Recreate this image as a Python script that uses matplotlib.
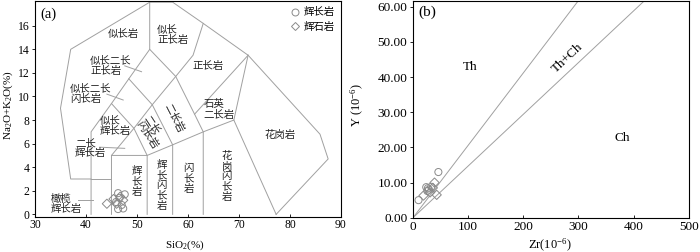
import matplotlib
matplotlib.use('Agg')
import matplotlib.pyplot as plt
from matplotlib.lines import Line2D

plt.rcParams['font.family'] = ['Liberation Serif', 'Noto Sans CJK SC']
plt.rcParams['mathtext.fontset'] = 'custom'
plt.rcParams['mathtext.rm'] = 'Liberation Serif'
plt.rcParams['mathtext.it'] = 'Liberation Serif:italic'

# (a) TAS plutonic diagram (Middlemost 1994) - samples
sio2_gabbro = [46.3, 47.6, 45.9, 47.0, 46.3, 47.3, 46.6]
alk_gabbro = [1.8, 1.7, 1.05, 0.8, 0.45, 0.5, 1.4]
sio2_pyrox = [44.1, 45.4, 47.3, 46.7, 46.0]
alk_pyrox = [0.9, 1.3, 1.2, 1.5, 0.9]

# field boundaries (SiO2, Na2O+K2O)
tas_outline = [(41, 0), (41, 3), (37, 3), (35, 9), (37, 14), (52.5, 18), (57, 18),
               (63, 16.2), (71.8, 13.5), (85.9, 6.8), (87.5, 4.7), (77.3, 0)]
tas_lines = [
    [(41, 3), (41, 7), (45, 9.4), (48.4, 11.5), (52.5, 14), (52.5, 18)],
    [(41, 3), (45, 3)],
    [(45, 0), (45, 5), (49.4, 7.3), (53, 9.3), (57.6, 11.7), (61, 13.5), (63, 16.2)],
    [(45, 5), (52, 5), (57, 5.9), (63, 7), (69, 8), (77.3, 0)],
    [(52, 0), (52, 5), (49.4, 7.3), (45, 9.4)],
    [(57, 0), (57, 5.9), (53, 9.3), (48.4, 11.5)],
    [(63, 0), (63, 7), (61.3, 8.5), (57.6, 11.7), (52.5, 14)],
    [(61.3, 8.5), (71.8, 13.5)],
    [(69, 8), (71.8, 13.5)],
]
# rock names: text, x, y, rotation
tas_names = [
    ('似长岩', 47.3, 15.3, 0),
    ('似长\n正长岩', 57.0, 15.2, 0),
    ('正长岩', 64.0, 12.6, 0),
    ('似长二长\n正长岩', 44.9, 12.6, 0),
    ('似长二长\n闪长岩', 40.9, 10.2, 0),
    ('似长\n辉长岩', 45.7, 7.5, 0),
    ('二长\n辉长岩', 40.9, 5.6, 0),
    ('橄榄\n辉长岩', 36.1, 0.9, 0),
    ('石英\n二长岩', 66.1, 8.9, 0),
    ('花岗岩', 78.0, 6.7, 0),
    ('辉\n长\n岩', 49.9, 2.8, 0),
    ('辉\n长\n闪\n长\n岩', 54.8, 2.45, 0),
    ('闪\n长\n岩', 60.1, 3.0, 0),
    ('花\n岗\n闪\n长\n岩', 67.6, 3.2, 0),
    ('二长岩', 57.3, 8.2, -63),
    ('二长\n闪长岩', 52.7, 7.0, -57),
]
leaders = [
    [(47.6, 12.6), (50.9, 12.1)],
    [(44.1, 10.2), (47.3, 9.7)],
    [(42.7, 5.7), (47.6, 5.6)],
    [(38.5, 1.2), (41.4, 1.2)],
]

# (b) Zr-Y diagram - samples
zr_gabbro = [10, 46, 24, 27, 29, 26, 33]
y_gabbro = [5.0, 13.0, 8.7, 8.4, 8.0, 7.6, 8.8]
zr_pyrox = [19, 31, 39, 43, 36]
y_pyrox = [6.3, 7.2, 10.0, 6.5, 8.5]
# boundary lines through origin, Zr reached at the top of the plot
zr_top = [300, 420]
y_top = 61.8

line_c = '#a0a0a0'
mark_c = '#8a8a8a'

fig = plt.figure(figsize=(7, 2.52), dpi=100)
ax1 = fig.add_axes([0.050, 0.140, 0.437, 0.856])
ax2 = fig.add_axes([0.590, 0.136, 0.394, 0.862])

# ---- (a)
xs = [p[0] for p in tas_outline]
ys = [p[1] for p in tas_outline]
ax1.plot(xs, ys, color=line_c, lw=0.7)
for seg in tas_lines + leaders:
    ax1.plot([p[0] for p in seg], [p[1] for p in seg], color=line_c, lw=0.7)
for txt, x, y, rot in tas_names:
    ax1.text(x, y, txt, fontsize=7.5, ha='center', va='center', rotation=rot,
             multialignment='left', linespacing=1.05, color='#222222')
ax1.scatter(sio2_gabbro, alk_gabbro, s=26, marker='o', facecolors='none',
            edgecolors=mark_c, linewidths=0.7, zorder=3)
ax1.scatter(sio2_pyrox, alk_pyrox, s=22, marker='D', facecolors='none',
            edgecolors=mark_c, linewidths=0.7, zorder=3)
ax1.set_xlim(30, 90)
ax1.set_ylim(-0.2, 18.1)
ax1.set_xticks(range(30, 91, 10))
ax1.set_yticks(range(0, 17, 2))
ax1.tick_params(axis='x', direction='in', length=2.5, width=0.6, labelsize=8.4, pad=2)
ax1.tick_params(axis='y', direction='out', length=2.5, width=0.6, labelsize=8.4, pad=1.5)
ax1.text(31.0, 17.0, '(a)', fontsize=10.5, ha='left', va='center')
handles = [Line2D([], [], marker='o', ls='none', mfc='none', mec=mark_c, ms=5, mew=0.7),
           Line2D([], [], marker='D', ls='none', mfc='none', mec=mark_c, ms=4.5, mew=0.7)]
ax1.legend(handles, ['辉长岩', '辉石岩'], loc='upper right', frameon=False, fontsize=7.5,
           handlelength=0.8, handletextpad=0.4, labelspacing=0.45, borderaxespad=0.2,
           bbox_to_anchor=(1.0, 1.0))
fig.text(185 / 700, 1 - 245 / 252, r'SiO$_2$(%)', fontsize=8, ha='center', va='center')
fig.text(8 / 700, 1 - 105 / 252, r'Na$_2$O+K$_2$O(%)', fontsize=8, ha='center',
         va='center', rotation=90)

# ---- (b)
for zt in zr_top:
    ax2.plot([0, zt], [0, y_top], color=line_c, lw=0.7)
ax2.scatter(zr_gabbro, y_gabbro, s=26, marker='o', facecolors='none',
            edgecolors=mark_c, linewidths=0.7, zorder=3)
ax2.scatter(zr_pyrox, y_pyrox, s=22, marker='D', facecolors='none',
            edgecolors=mark_c, linewidths=0.7, zorder=3)
ax2.text(103, 43, 'Th', fontsize=9.5, ha='center', va='center')
ax2.text(280, 45.5, 'Th+Ch', fontsize=9.5, ha='center', va='center', rotation=43)
ax2.text(380, 22.7, 'Ch', fontsize=9.5, ha='center', va='center')
ax2.text(10, 58.5, '(b)', fontsize=11, ha='left', va='center')
ax2.set_xlim(0, 500)
ax2.set_ylim(0, y_top)
ax2.set_xticks(range(0, 501, 100))
ax2.set_yticks(range(0, 61, 10))
ax2.set_yticklabels(['%.2f' % v for v in range(0, 61, 10)])
ax2.tick_params(axis='x', direction='in', length=2.5, width=0.6, labelsize=9.5, pad=2)
ax2.tick_params(axis='y', direction='out', length=2.5, width=0.6, labelsize=9.5, pad=1.5)
fig.text(550 / 700, 1 - 245 / 252, r'Zr(10$^{-6}$)', fontsize=9, ha='center', va='center')
fig.text(357 / 700, 1 - 105 / 252, r'Y (10$^{-6}$)', fontsize=9, ha='center',
         va='center', rotation=90)

for ax in (ax1, ax2):
    for sp in ax.spines.values():
        sp.set_linewidth(0.8)

fig.savefig('out.png', dpi=100)
